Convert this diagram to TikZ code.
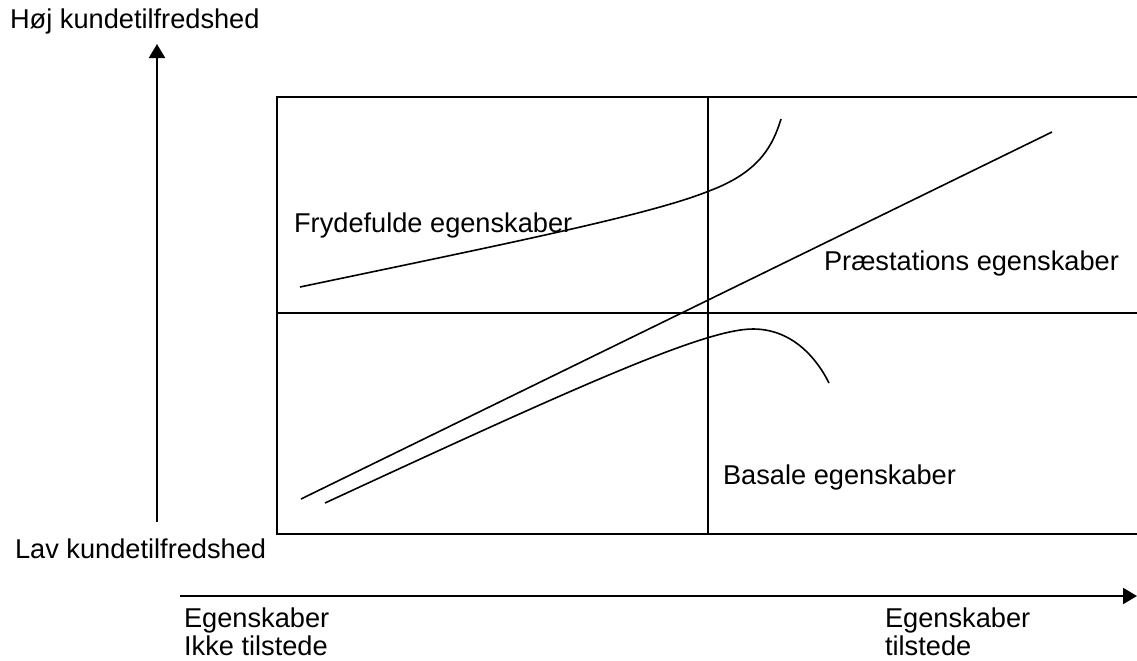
\documentclass[tikz,border=0pt]{standalone}
\usepackage{fontspec}
\setmainfont{Liberation Sans}
\usetikzlibrary{arrows.meta}

\begin{document}
\begin{tikzpicture}[x=0.5pt,y=-0.5pt,line width=1.1pt,
                    >={Triangle[length=7pt,width=8pt]},
                    font=\fontsize{13.6}{14}\selectfont]
	\tikzstyle{lbl}=[anchor=base west,inner sep=0pt,align=left]
	\tikzstyle{kurve}=[line width=0.8pt]

	\useasboundingbox (0,0) rectangle (1137,660);
	\clip (0,0) rectangle (1137,660);

	% akser
	\coordinate (ylo) at (157,522);
	\coordinate (yhi) at (157,44);
	\coordinate (xlo) at (180,596);
	\coordinate (xhi) at (1137,596);
	\draw[->] (ylo) -- (yhi);
	\draw[->] (xlo) -- (xhi);

	\node[lbl] (hoej) at (9,28) {Høj kundetilfredshed};
	\node[lbl] (lav)  at (14,558) {Lav kundetilfredshed};
	\node[lbl] (ikke) at (183,655) {Egenskaber\\Ikke tilstede};
	\node[lbl] (til)  at (884,655) {Egenskaber\\tilstede};

	% kasse med kvadranter
	\coordinate (nw) at (277,97);
	\coordinate (se) at (1150,534);
	\draw (nw) rectangle (se);
	\draw (708,97) -- (708,534);
	\draw (277,313) -- (1150,313);

	% kurver
	\coordinate (f0) at (300,287);
	\coordinate (f1) at (709,191);
	\coordinate (f2) at (781,119);
	\draw[kurve] (f0) .. controls (500,245) and (650,215) .. (f1)
	                  .. controls (760,172) and (773,145) .. (f2);

	\coordinate (p0) at (301,499);
	\coordinate (p1) at (1052,132);
	\draw[kurve] (p0) -- (p1);

	\coordinate (b0) at (325,503);
	\coordinate (b1) at (753,329);
	\coordinate (b2) at (829,383);
	\draw[kurve] (b0) .. controls (580,385) and (705,329) .. (b1)
	                  .. controls (790,329) and (815,355) .. (b2);

	\node[lbl] (fryd)  at (293,232) {Frydefulde egenskaber};
	\node[lbl] (praes) at (823,270) {Præstations egenskaber};
	\node[lbl] (basal) at (722,484) {Basale egenskaber};
\end{tikzpicture}
\end{document}
